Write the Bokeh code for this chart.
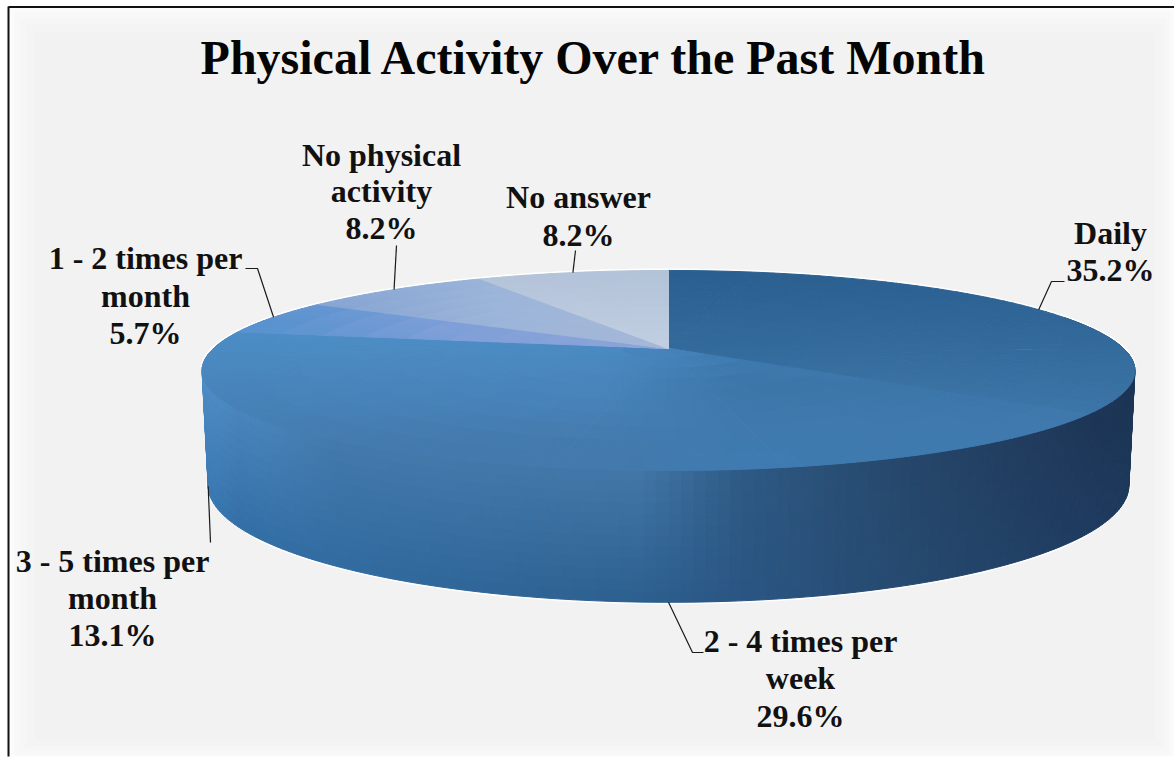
import math
from bokeh.plotting import figure
from bokeh.embed import file_html
from bokeh.resources import INLINE
from bokeh.models import Range1d
from bokeh.core.properties import value

TITLE = "Physical Activity Over the Past Month"
categories = ["Daily", "2 - 4 times per week", "3 - 5 times per month",
              "1 - 2 times per month", "No physical activity", "No answer"]
shares = [35.2, 29.6, 13.1, 5.7, 8.2, 8.2]
label_lines = [["Daily", "35.2%"],
               ["2 - 4 times per", "week", "29.6%"],
               ["3 - 5 times per", "month", "13.1%"],
               ["1 - 2 times per", "month", "5.7%"],
               ["No physical", "activity", "8.2%"],
               ["No answer", "8.2%"]]

# --- layout (screen pixel space) ---
W, H = 1174, 759
CX, CY, RX, RY, K = 668, 348, 455, 95.2, 0.22
DEPTH_Y, BOTTOM_SY, BOTTOM_SX = 111, 1.17, 0.987
LABEL_POS = [(1110, [232, 269]), (800, [640, 677, 715]), (112, [560, 597, 634]),
             (145, [257, 295, 332]), (381, [154, 190, 227]), (578, [196, 234])]
ELBOWS = [[(1051, 281), (1064, 281)], [(692, 652), (703, 652)], [(210, 542)],
          [(257, 268), (245, 268)], [(396, 245)], [(575, 250)]]
FRAME_STEPS = [(8, 7, 1174, 756, "#fbfbfb"), (14, 12, 1170, 754, "#f8f8f8"), (20, 18, 1166, 750, "#f6f6f6"),
               (26, 24, 1162, 746, "#f4f4f4"), (34, 32, 1154, 740, "#f2f2f2")]


def proj(theta, r=1.0, bottom=False):
    s, c = math.sin(theta), math.cos(theta)
    w = 1 + K * c * r
    x, y = RX * s * r / w, -RY * c * r / w
    if bottom:
        return CX + BOTTOM_SX * x, CY + DEPTH_Y + BOTTOM_SY * y
    return CX + x, CY + y


def hx(c):
    return tuple(int(c[i:i + 2], 16) for i in (1, 3, 5))


def lerp_stops(stops, v):
    if v <= stops[0][0]:
        return hx(stops[0][1])
    for (a, ca), (b, cb) in zip(stops, stops[1:]):
        if v <= b:
            t = (v - a) / (b - a)
            return tuple(p + (q - p) * t for p, q in zip(hx(ca), hx(cb)))
    return hx(stops[-1][1])


def css(c):
    return "#%02x%02x%02x" % tuple(int(round(v)) for v in c)


LEFT_FACE = [(335, "#4c8dc5"), (400, "#4782b8"), (450, "#4379ac")]
RIGHT_FACE = [(350, "#3f7cb2"), (385, "#3c75a8"), (425, "#3f79ae"), (470, "#3f7bb0")]


def front_face(x, y):
    if x < 600:
        return lerp_stops(LEFT_FACE, y)
    if x > 740:
        return lerp_stops(RIGHT_FACE, y)
    t = (x - 600) / 140
    a, b = lerp_stops(LEFT_FACE, y), lerp_stops(RIGHT_FACE, y)
    return tuple(u + (v - u) * t for u, v in zip(a, b))


TOP = [
    lambda x, y: lerp_stops([(270, "#2a5f90"), (340, "#326a9b"), (390, "#3a72a4"), (440, "#3f79ae")], y),
    front_face,
    front_face,
    lambda x, y: lerp_stops([(280, "#5a93cf"), (450, "#7f9fd8"), (668, "#8ea6d8")], x),
    lambda x, y: lerp_stops([(330, "#86a5d3"), (500, "#9cb5d9"), (668, "#a6b8d8")], x),
    lambda x, y: lerp_stops([(270, "#b2c2d8"), (348, "#c2cfe2")], y),
]

WALL_TOP = [(205, "#4f8cc6"), (240, "#4a86bd"), (340, "#4379ac"), (640, "#4277a8"),
            (740, "#2e5a85"), (900, "#26476b"), (1100, "#1d3556"), (1138, "#1c3555")]
WALL_BOT = [(205, "#3a7ab5"), (240, "#336ea6"), (340, "#316ba0"), (640, "#2c5f8e"),
            (740, "#2a5583"), (900, "#264a70"), (1100, "#1e3a5e"), (1138, "#1c3858")]

p = figure(width=W, height=H, output_backend="svg", toolbar_location=None,
           x_range=Range1d(0, W), y_range=Range1d(H, 0),
           min_border=0, outline_line_color=None, background_fill_color="#ffffff",
           border_fill_color="#ffffff")
p.axis.visible = False
p.grid.visible = False

# chart area: pale frame fading to a grey interior, border on the top and left
for l, t, r, b, col in FRAME_STEPS:
    p.quad(left=[l], right=[r], top=[t], bottom=[b], fill_color=col, line_color=None)
p.line([8, 8], [756, 6], line_color="#111111", line_width=2)
p.line([8, W], [6.5, 6.5], line_color="#111111", line_width=2)

# pale halo round the silhouette
angles = [i / 180 * math.pi for i in range(361)]
halo = sorted((proj(a) for a in angles if math.cos(a) > -0.2), key=lambda u: u[0])
p.line([u[0] for u in halo], [u[1] for u in halo], line_color="#ffffff", line_width=4)
halo_b = sorted((proj(a, bottom=True) for a in angles if math.cos(a) < 0.2), key=lambda u: u[0])
p.line([u[0] for u in halo_b], [u[1] for u in halo_b], line_color="#ffffff", line_width=4)

# side wall, painted back to front
total = sum(shares)
N_T, N_B = 300, 12
strips = sorted(range(N_T), key=lambda i: -math.cos((i + 0.5) / N_T * 2 * math.pi))
wx, wy, wc = [], [], []
for i in strips:
    a, b = (i / N_T) * 2 * math.pi, ((i + 1) / N_T) * 2 * math.pi
    if math.cos((a + b) / 2) > 0.35:
        continue
    ta, tb = proj(a), proj(b)
    ba, bb = proj(a, bottom=True), proj(b, bottom=True)
    for j in range(N_B):
        t0, t1 = j / N_B, (j + 1) / N_B
        q = [(ta[0] + (ba[0] - ta[0]) * t0, ta[1] + (ba[1] - ta[1]) * t0),
             (tb[0] + (bb[0] - tb[0]) * t0, tb[1] + (bb[1] - tb[1]) * t0),
             (tb[0] + (bb[0] - tb[0]) * t1, tb[1] + (bb[1] - tb[1]) * t1),
             (ta[0] + (ba[0] - ta[0]) * t1, ta[1] + (ba[1] - ta[1]) * t1)]
        mx = sum(v[0] for v in q) / 4
        tm = (t0 + t1) / 2
        c0, c1 = lerp_stops(WALL_TOP, mx), lerp_stops(WALL_BOT, mx)
        wx.append([v[0] for v in q])
        wy.append([v[1] for v in q])
        wc.append(css(tuple(u + (v - u) * tm for u, v in zip(c0, c1))))
p.patches(wx, wy, fill_color=wc, line_color=wc, line_width=1)

# top face: each slice from its share, split into shaded cells
fx, fy, fc = [], [], []
cum = 0.0
mids = []
N_R = 10
for k, v in enumerate(shares):
    a0, a1 = cum / total * 2 * math.pi, (cum + v) / total * 2 * math.pi
    mids.append((a0 + a1) / 2)
    cum += v
    n = max(3, int((a1 - a0) / (2 * math.pi) * 200))
    for i in range(n):
        t0, t1 = a0 + (a1 - a0) * i / n, a0 + (a1 - a0) * (i + 1) / n
        for j in range(N_R):
            r0, r1 = j / N_R, (j + 1) / N_R
            q = [proj(t0, r0), proj(t1, r0), proj(t1, r1), proj(t0, r1)]
            mx = sum(u[0] for u in q) / 4
            my = sum(u[1] for u in q) / 4
            col = css(TOP[k](mx, my))
            fx.append([u[0] for u in q])
            fy.append([u[1] for u in q])
            fc.append(col)
p.patches(fx, fy, fill_color=fc, line_color=fc, line_width=1)

# leader lines start at the middle of each slice's rim
ON_WALL_BOTTOM = {"2 - 4 times per week", "3 - 5 times per month"}
for name, m, elbow in zip(categories, mids, ELBOWS):
    s = proj(m, bottom=name in ON_WALL_BOTTOM)
    pts = [s] + elbow
    p.line([u[0] for u in pts], [u[1] for u in pts], line_color="#1a1a1a", line_width=1.2)

# texts
for (lx, ys), lines in zip(LABEL_POS, label_lines):
    p.text([lx] * len(lines), ys, text=lines, text_font=value("Liberation Serif"),
           text_font_style="bold", text_font_size="32px", text_color="#111111",
           text_align="center", text_baseline="middle")
p.text([594], [57], text=[TITLE], text_font=value("Liberation Serif"), text_font_style="bold",
       text_font_size="48px", text_color="#050505", text_align="center", text_baseline="middle")

open("out.html", "w").write(file_html(p, INLINE))
